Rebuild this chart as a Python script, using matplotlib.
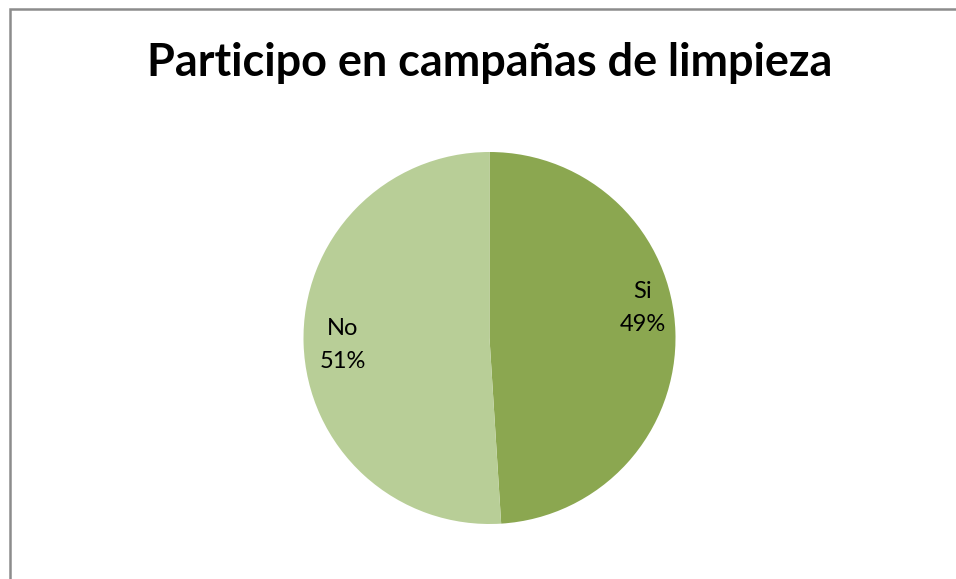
import matplotlib
matplotlib.use("Agg")
import matplotlib.pyplot as plt
from matplotlib.patches import Rectangle

# Data
categories = ["Si", "No"]
shares = [49, 51]
colors = ["#8BA750", "#B8CE97"]

W, H = 956, 579
fig = plt.figure(figsize=(W / 100, H / 100), dpi=100)
fig.patch.set_facecolor("white")

# outer chart frame (runs off the right/bottom of the picture)
frame = Rectangle((9.5 / W, -0.05), 1.0, 1 - 8.5 / H + 0.05, transform=fig.transFigure,
                  fill=False, edgecolor="#8C8C8C", linewidth=1.8)
fig.patches.append(frame)

fig.text(490 / W, 1 - 63 / H, "Participo en campañas de limpieza",
         ha="center", va="center", fontsize=32.4, fontweight="bold",
         family=["Lato", "DejaVu Sans"], color="black")

# pie axes: centre (489.5, 338) px, radius 186 px
cx, cy, r = 489.5, H - 338, 186
ax = fig.add_axes([(cx - r) / W, (cy - r) / H, 2 * r / W, 2 * r / H])
ax.pie(shares, colors=colors, startangle=90, counterclock=False, radius=1,
       wedgeprops=dict(linewidth=0))
ax.set_xlim(-1, 1)
ax.set_ylim(-1, 1)
ax.axis("off")

label_pos = {"Si": (0.825, 0.16), "No": (-0.788, -0.04)}
for cat, val in zip(categories, shares):
    x, y = label_pos[cat]
    ax.text(x, y, f"{cat}\n{val}%", ha="center", va="center", fontsize=17,
            family=["Lato", "DejaVu Sans"], linespacing=1.7)

fig.savefig("out.png", dpi=100)
